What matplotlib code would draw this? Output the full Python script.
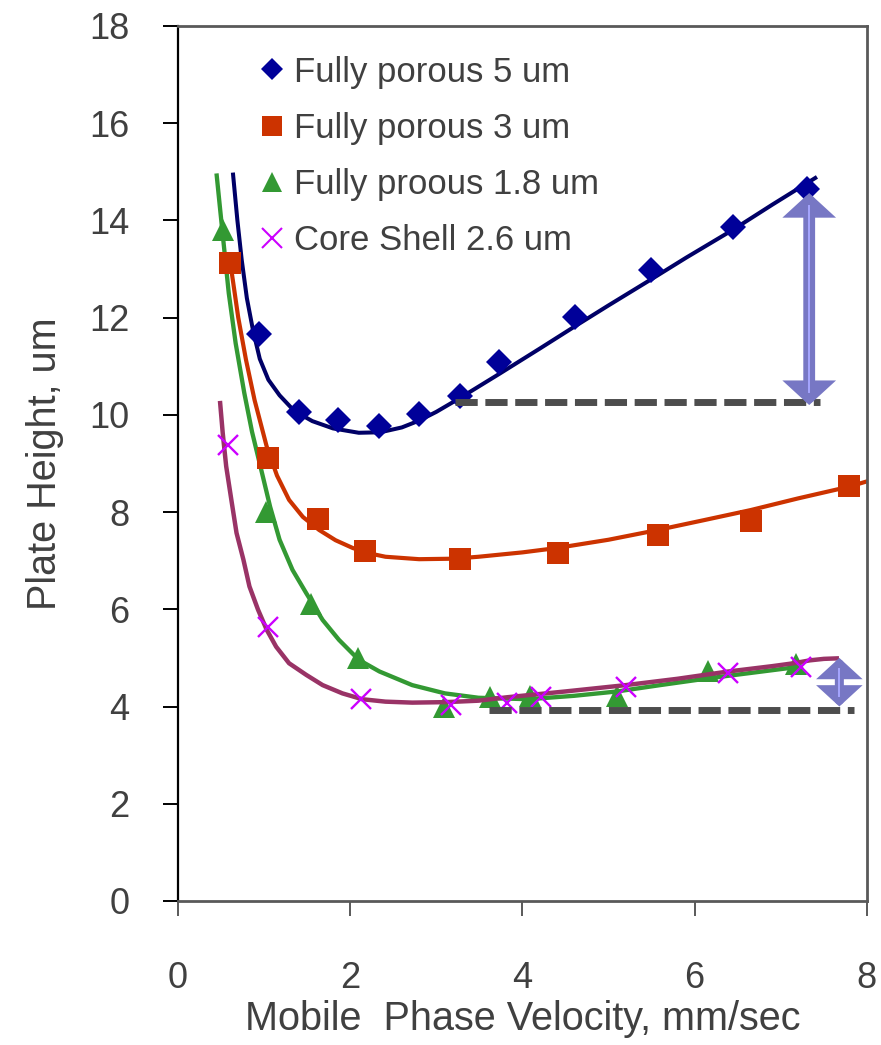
import numpy as np
import matplotlib
matplotlib.use("Agg")
import matplotlib.pyplot as plt
from matplotlib.lines import Line2D

plt.rcParams['font.family'] = ['Liberation Sans', 'DejaVu Sans']

# measured points
u_5um = [0.94, 1.41, 1.86, 2.33, 2.80, 3.27, 3.73, 4.61, 5.49, 6.44, 7.31]
h_5um = [11.67, 10.06, 9.90, 9.76, 10.02, 10.39, 11.09, 12.01, 12.98, 13.87, 14.64]

u_3um = [0.60, 1.05, 1.63, 2.17, 3.28, 4.41, 5.57, 6.65, 7.79]
h_3um = [13.13, 9.12, 7.85, 7.20, 7.04, 7.15, 7.53, 7.82, 8.54]

u_18um = [0.52, 1.02, 1.54, 2.09, 3.09, 3.62, 4.09, 5.10, 6.16, 7.18]
h_18um = [13.80, 8.00, 6.11, 4.99, 4.00, 4.19, 4.22, 4.22, 4.74, 4.88]

u_core = [0.58, 1.05, 2.13, 3.17, 3.82, 4.22, 5.20, 6.39, 7.24]
h_core = [9.37, 5.64, 4.16, 4.03, 4.08, 4.20, 4.41, 4.68, 4.81]

# fitted curves
fit_u_5um = [0.64, 0.69, 0.74, 0.80, 0.87, 0.95, 1.05, 1.18, 1.35, 1.56, 1.80,
             2.10, 2.35, 2.60, 2.80, 3.00, 3.27, 3.73, 4.20, 4.61, 5.00, 5.49,
             5.90, 6.44, 6.90, 7.40]
fit_h_5um = [14.94, 14.00, 13.19, 12.40, 11.75, 11.15, 10.72, 10.40, 10.08, 9.87,
             9.72, 9.63, 9.64, 9.74, 9.88, 10.06, 10.34, 10.84, 11.36, 11.82,
             12.25, 12.78, 13.23, 13.80, 14.32, 14.87]

fit_u_3um = [0.60, 0.62, 0.70, 0.79, 0.89, 1.03, 1.15, 1.29, 1.45, 1.64, 1.83,
             2.03, 2.22, 2.41, 2.80, 3.20, 3.49, 4.00, 4.40, 5.00, 5.57, 6.10,
             6.65, 7.20, 7.79, 8.00]
fit_h_3um = [13.30, 12.98, 12.00, 11.13, 10.30, 9.35, 8.75, 8.25, 7.90, 7.63,
             7.42, 7.26, 7.15, 7.08, 7.03, 7.04, 7.08, 7.17, 7.26, 7.43, 7.63,
             7.83, 8.04, 8.28, 8.52, 8.63]

fit_u_18um = [0.45, 0.49, 0.53, 0.59, 0.67, 0.77, 0.86, 0.96, 1.07, 1.18, 1.33,
              1.49, 1.68, 1.87, 2.10, 2.34, 2.72, 3.10, 3.49, 4.07, 4.60, 5.10,
              5.60, 6.16, 6.65, 7.18]
fit_h_18um = [14.92, 14.22, 13.53, 12.50, 11.47, 10.45, 9.65, 8.92, 8.11, 7.43,
              6.81, 6.33, 5.78, 5.37, 4.96, 4.72, 4.44, 4.27, 4.18, 4.15, 4.22,
              4.31, 4.44, 4.58, 4.69, 4.81]

fit_u_core = [0.49, 0.52, 0.56, 0.62, 0.68, 0.76, 0.83, 0.93, 1.03, 1.14, 1.29,
              1.49, 1.68, 1.91, 2.14, 2.41, 2.72, 3.11, 3.49, 3.82, 4.50, 5.20,
              5.80, 6.39, 6.90, 7.15, 7.34, 7.50, 7.65]
fit_h_core = [10.24, 9.62, 8.94, 8.25, 7.57, 7.02, 6.47, 5.99, 5.58, 5.23, 4.89,
              4.65, 4.44, 4.27, 4.15, 4.10, 4.08, 4.09, 4.12, 4.19, 4.31, 4.44,
              4.57, 4.72, 4.83, 4.89, 4.95, 4.98, 4.99]

labels = ['Fully porous 5 um', 'Fully porous 3 um',
          'Fully proous 1.8 um', 'Core Shell 2.6 um']

# reference levels (min plate height) and arrow spans
ref_levels = [10.27, 3.92]
ref_spans = [(3.22, 7.46), (3.61, 7.85)]
arrow_x = [7.33, 7.68]
arrow_spans = [(10.20, 14.56), (4.00, 5.00)]

text_col = '#404040'

fig = plt.figure(figsize=(8.81, 10.45), dpi=100)
ax = fig.add_axes([0.202, 0.1378, 0.782, 0.8375])

# curves
ax.plot(fit_u_5um, fit_h_5um, color='#000066', lw=2.9, zorder=2)
ax.plot(fit_u_3um, fit_h_3um, color='#cc3300', lw=3.0, zorder=2)
ax.plot(fit_u_18um, fit_h_18um, color='#339933', lw=3.1, zorder=2)
ax.plot(fit_u_core, fit_h_core, color='#993366', lw=3.2, zorder=3.5)

# markers
ax.plot(u_5um, h_5um, 'D', color='#000099', ms=13, mew=0, zorder=3)
ax.plot(u_3um, h_3um, 's', color='#cc3300', ms=15.5, mew=0, zorder=3)
ax.plot(u_18um, h_18um, '^', color='#339933', ms=16.5, mew=0, zorder=3)
ax.plot(u_core, h_core, 'x', color='#cc00ff', ms=14.5, mew=1.7, zorder=4)

# dashed reference lines
for lvl, (x0, x1) in zip(ref_levels, ref_spans):
    ax.plot([x0, x1], [lvl, lvl], color='#4d4d4d', lw=5, dashes=(3.2, 1.1),
            dash_capstyle='butt', zorder=4)

# double headed arrows
for xa, (y0, y1), big in zip(arrow_x, arrow_spans, [True, False]):
    lw = 8.5 if big else 6.5
    ax.annotate('', xy=(xa, y1), xytext=(xa, y0),
                arrowprops=dict(arrowstyle='<|-|>,head_length=0.55,head_width=0.6',
                                lw=lw, color='#7777c4', mutation_scale=14,
                                shrinkA=0, shrinkB=0, joinstyle='miter'),
                zorder=5)
    pad = (y1 - y0) * (0.06 if big else 0.22)
    ax.plot([xa, xa], [y0 + pad, y1 - pad], color='#a6a6ff', lw=1.4, zorder=6)

ax.set_xlim(0, 8)
ax.set_ylim(0, 18)
ax.set_xticks(np.arange(0, 9, 2))
ax.set_yticks(np.arange(0, 19, 2))

ax.tick_params(axis='y', direction='out', length=11, width=1.4, color='black',
               labelsize=26, labelcolor=text_col, pad=24)
ax.tick_params(axis='x', direction='out', length=11, width=1.4, color='#595959',
               labelsize=26, labelcolor=text_col, pad=32)

ax.spines['left'].set_color('black')
ax.spines['left'].set_linewidth(1.6)
for s in ['top', 'right', 'bottom']:
    ax.spines[s].set_color('#595959')
    ax.spines[s].set_linewidth(2.0)

ax.set_xlabel('Mobile  Phase Velocity, mm/sec', fontsize=28.5, color=text_col,
              labelpad=3)
ax.set_ylabel('Plate Height, um', fontsize=28.5, color=text_col, labelpad=18)

handles = [
    Line2D([], [], ls='none', marker='D', color='#000099', ms=11, mew=0),
    Line2D([], [], ls='none', marker='s', color='#cc3300', ms=14, mew=0),
    Line2D([], [], ls='none', marker='^', color='#339933', ms=15, mew=0),
    Line2D([], [], ls='none', marker='x', color='#cc00ff', ms=14, mew=1.5),
]
leg = ax.legend(handles, labels, loc='upper left', bbox_to_anchor=(0.116, 0.966),
                frameon=False, fontsize=25, handlelength=0.8, handletextpad=0.25,
                labelspacing=0.67, borderpad=0, borderaxespad=0)
for t in leg.get_texts():
    t.set_color(text_col)

plt.savefig('out.png', dpi=100)
plt.close()
